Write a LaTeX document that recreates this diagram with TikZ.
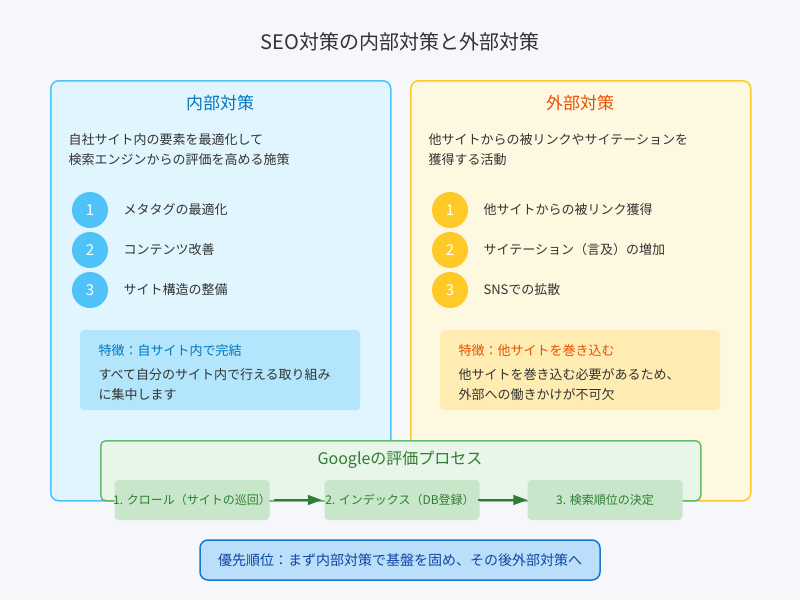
\documentclass[tikz,border=0pt]{standalone}
\usepackage{fontspec}
\setmainfont{Noto Sans CJK JP}
\usetikzlibrary{arrows.meta}
\definecolor{bg}{HTML}{F5F7FA}
\definecolor{bfill}{HTML}{E1F5FE}\definecolor{bline}{HTML}{4FC3F7}\definecolor{btxt}{HTML}{0277BD}
\definecolor{yfill}{HTML}{FFF8E1}\definecolor{yline}{HTML}{FFCA28}\definecolor{ytxt}{HTML}{E65100}
\definecolor{bfeat}{HTML}{B3E5FC}\definecolor{yfeat}{HTML}{FFECB3}
\definecolor{gfill}{HTML}{E8F5E9}\definecolor{gline}{HTML}{66BB6A}\definecolor{gtxt}{HTML}{2E7D32}\definecolor{gstep}{HTML}{C8E6C9}
\definecolor{pfill}{HTML}{BBDEFB}\definecolor{pline}{HTML}{1976D2}\definecolor{ptxt}{HTML}{0D47A1}
\definecolor{dark}{HTML}{333333}
\tikzset{
 panel/.style={draw, line width=1.5pt, rounded corners=8pt, minimum height=420pt, minimum width=340pt, anchor=north west},
 num/.style={circle, minimum size=36pt, inner sep=0pt, text=white, font=\fontsize{15}{15}\selectfont},
 item/.style={anchor=west, text=dark, font=\fontsize{13}{13}\selectfont},
 desc/.style={anchor=west, text=dark, font=\fontsize{13}{20}\selectfont, align=left},
 feat/.style={rounded corners=4pt, minimum width=280pt, minimum height=80pt, anchor=north west},
 stepbox/.style={fill=gstep, rounded corners=4pt, minimum width=155pt, minimum height=40pt, text=gtxt, font=\fontsize{12}{12}\selectfont},
 flow/.style={draw=gtxt, line width=1.5pt, -{Triangle[length=14pt,width=10pt]}}
}
\begin{document}
\begin{tikzpicture}[x=1pt,y=-1pt]
\fill[bg] (0,0) rectangle (800,600);
\useasboundingbox (0,0) rectangle (800,600);
\node[text=dark, font=\fontsize{20}{20}\selectfont] (title) at (400,42) {SEO対策の内部対策と外部対策};
% inner
\node[panel, draw=bline, fill=bfill] (inner) at (50,80) {};
\node[text=btxt, font=\fontsize{17}{17}\selectfont] (it) at (220,103) {内部対策};
\node[desc] (id) at (65,150) {自社サイト内の要素を最適化して\\検索エンジンからの評価を高める施策};
\node[num, fill=bline] (i1) at (90,210) {1};
\node[num, fill=bline] (i2) at (90,250) {2};
\node[num, fill=bline] (i3) at (90,290) {3};
\node[item] (i1t) at (120,210) {メタタグの最適化};
\node[item] (i2t) at (120,250) {コンテンツ改善};
\node[item] (i3t) at (120,290) {サイト構造の整備};
\node[feat, fill=bfeat] (ifeat) at (80,330) {};
\node[anchor=west, text=btxt, font=\fontsize{13}{13}\selectfont] (ift) at (95,351) {特徴：自サイト内で完結};
\node[desc] (ifd) at (95,385) {すべて自分のサイト内で行える取り組み\\に集中します};
% outer
\node[panel, draw=yline, fill=yfill] (outer) at (410,80) {};
\node[text=ytxt, font=\fontsize{17}{17}\selectfont] (ot) at (580,103) {外部対策};
\node[desc] (od) at (425,150) {他サイトからの被リンクやサイテーションを\\獲得する活動};
\node[num, fill=yline] (o1) at (450,210) {1};
\node[num, fill=yline] (o2) at (450,250) {2};
\node[num, fill=yline] (o3) at (450,290) {3};
\node[item] (o1t) at (480,210) {他サイトからの被リンク獲得};
\node[item] (o2t) at (480,250) {サイテーション（言及）の増加};
\node[item] (o3t) at (480,290) {SNSでの拡散};
\node[feat, fill=yfeat] (ofeat) at (440,330) {};
\node[anchor=west, text=ytxt, font=\fontsize{13}{13}\selectfont] (oft) at (455,351) {特徴：他サイトを巻き込む};
\node[desc] (ofd) at (455,385) {他サイトを巻き込む必要があるため、\\外部への働きかけが不可欠};
% google
\node[draw=gline, fill=gfill, line width=1.5pt, rounded corners=5pt, minimum width=600pt, minimum height=60pt, anchor=north west] (g) at (100,440) {};
\node[text=gtxt, font=\fontsize{16}{16}\selectfont] (gt) at (400,460) {Googleの評価プロセス};
\node[stepbox] (s1) at (192,500) {};
\node[stepbox] (s2) at (402,500) {};
\node[stepbox] (s3) at (605,500) {};
\node[text=gtxt, font=\fontsize{12}{12}\selectfont] (s1t) at (192,500) {1. クロール（サイトの巡回）};
\node[text=gtxt, font=\fontsize{12}{12}\selectfont] (s2t) at (400,500) {2. インデックス（DB登録）};
\node[text=gtxt, font=\fontsize{12}{12}\selectfont] (s3t) at (605,500) {3. 検索順位の決定};
\draw[flow] (s1t.east) -- (s2t.west);
\draw[flow] (s2t.east) -- (s3.west);
% priority
\node[draw=pline, fill=pfill, line width=1.5pt, rounded corners=8pt, minimum width=400pt, minimum height=40pt, text=ptxt, font=\fontsize{14}{14}\selectfont] (p) at (400,560) {優先順位：まず内部対策で基盤を固め、その後外部対策へ};
\end{tikzpicture}
\end{document}
